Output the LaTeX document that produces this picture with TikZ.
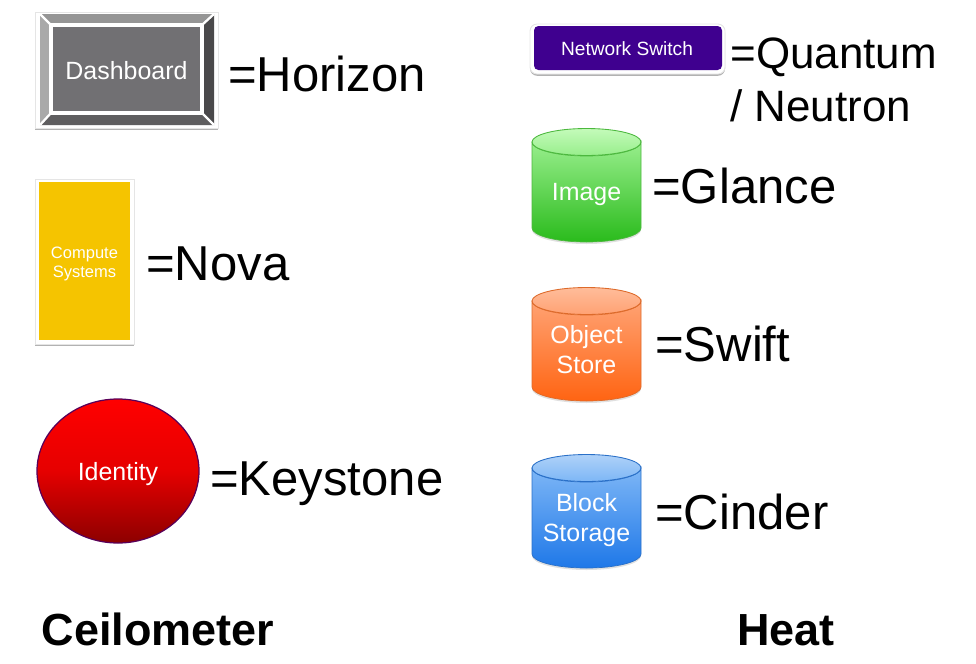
\documentclass[tikz,border=0pt]{standalone}
\usepackage{xcolor}
\usepackage{fontspec}
\setmainfont{Liberation Sans}
\usetikzlibrary{shadows}
\definecolor{bevelmid}{HTML}{717073}
\definecolor{beveltop}{HTML}{959595}
\definecolor{bevelleft}{HTML}{A9A9A9}
\definecolor{bevelright}{HTML}{4A494B}
\definecolor{bevelbottom}{HTML}{5F5E60}
\definecolor{computefill}{HTML}{F5C400}
\definecolor{switchfill}{HTML}{3F008F}
\definecolor{greenlid}{HTML}{C4FBBA}
\definecolor{greenup}{HTML}{98EE8C}
\definecolor{greendown}{HTML}{2ABB1C}
\definecolor{greenedge}{HTML}{4CB83E}
\definecolor{orangelid}{HTML}{FFBC9A}
\definecolor{orangeup}{HTML}{FFA273}
\definecolor{orangedown}{HTML}{FF6412}
\definecolor{orangeedge}{HTML}{DD6A2A}
\definecolor{bluelid}{HTML}{AFD2F8}
\definecolor{blueup}{HTML}{7DB6F6}
\definecolor{bluedown}{HTML}{1F78E8}
\definecolor{blueedge}{HTML}{2A70C8}
\tikzset{
  service/.style={anchor=base west,inner sep=0pt,text=black,font=\fontsize{27.9}{30}\selectfont},
  project/.style={anchor=base,inner sep=0pt,text=black,font=\fontsize{25.6}{30}\bfseries\selectfont},
  inlabel/.style={align=center,inner sep=0pt,text=white,font=\fontsize{14.2}{17}\selectfont},
  softshadow/.style={draw=black!10,line width=0.5pt,drop shadow={shadow xshift=0pt,shadow yshift=-1pt,opacity=0.3,fill=black}}
}
% one storage drum: name, left x, top y, side colour top, side colour bottom, lid colour, edge colour
\newcommand{\drum}[7]{
  \fill[black,opacity=0.12] (#2,#3+102) arc[start angle=180,end angle=0,x radius=54.5,y radius=14] -- (#2+109,#3+100) arc[start angle=0,end angle=180,x radius=54.5,y radius=12] -- cycle;
  \draw[draw=#7,top color=#4,bottom color=#5,line width=0.4pt] (#2,#3+14) -- (#2,#3+100) arc[start angle=180,end angle=0,x radius=54.5,y radius=14] -- (#2+109,#3+14) arc[start angle=0,end angle=180,x radius=54.5,y radius=14] -- cycle;
  \draw[draw=#7,top color=#6,bottom color=#4,line width=0.5pt] (#2+54.5,#3+14) circle[x radius=54.5,y radius=13.5];
}
\begin{document}
\begin{tikzpicture}[x=0.02cm,y=-0.02cm]
  \useasboundingbox (0,0) rectangle (976,663);
  % Dashboard
  \fill[white,softshadow] (35,12) rectangle (218,128);
  \fill[beveltop] (40,14) -- (214,14) -- (200,27) -- (53,27) -- cycle;
  \fill[bevelleft] (40,14) -- (53,27) -- (53,111) -- (40,125) -- cycle;
  \fill[bevelright] (214,14) -- (200,27) -- (200,111) -- (214,125) -- cycle;
  \fill[bevelbottom] (40,125) -- (53,111) -- (200,111) -- (214,125) -- cycle;
  \draw[white,line width=2.3pt,fill=bevelmid] (51,25) rectangle (202,113);
  \draw[white,line width=1.3pt] (40,14) -- (51,25) (214,14) -- (202,25) (40,125) -- (51,113) (214,125) -- (202,113);
  \node[inlabel] (dashboard) at (126.5,71) {Dashboard};
  \node[service] (horizon) at (228,91) {=Horizon};
  % Compute
  \fill[white,softshadow] (35,179) rectangle (134,344);
  \fill[computefill] (39,182) rectangle (130,340);
  \node[inlabel,font=\fontsize{9.4}{11}\selectfont] (compute) at (84.5,264) {Compute\\Systems};
  \node[service] (nova) at (146,280) {=Nova};
  % Identity
  \draw[draw=blue!50!red!70!black,line width=0.7pt,top color=red,bottom color=red!55!black,middle color=red!90!black] (118,471) circle[x radius=81,y radius=72];
  \node[inlabel] (identity) at (118,474) {Identity};
  \node[service] (keystone) at (210,495) {=Keystone};
  % Network switch
  \fill[white,rounded corners=4pt,softshadow] (530,24) rectangle (725,74);
  \fill[switchfill,rounded corners=2.5pt] (534,26) rectangle (722,70);
  \node[inlabel,font=\fontsize{10.9}{13}\selectfont] (switch) at (627,48.5) {Network Switch};
  \node[service,font=\fontsize{25}{30}\selectfont] (quantum) at (730,68) {=Quantum};
  \node[service,font=\fontsize{25}{30}\selectfont] (neutron) at (730,121) {/ Neutron};
  % Storage
  \drum{imagedrum}{532}{128}{greenup}{greendown}{greenlid}{greenedge}
  \node[inlabel] (image) at (586.5,195) {Image};
  \node[service] (glance) at (652,203) {=Glance};
  \drum{objectdrum}{532}{287}{orangeup}{orangedown}{orangelid}{orangeedge}
  \node[inlabel] (object) at (586.5,350) {Object\\Store};
  \node[service] (swift) at (655,361) {=Swift};
  \drum{blockdrum}{532}{454}{blueup}{bluedown}{bluelid}{blueedge}
  \node[inlabel] (block) at (586.5,520) {Block\\Storage};
  \node[service] (cinder) at (655,529) {=Cinder};
  % Bottom titles
  \node[project] (ceilometer) at (158,645) {Ceilometer};
  \node[project] (heat) at (786,645) {Heat};
\end{tikzpicture}
\end{document}
